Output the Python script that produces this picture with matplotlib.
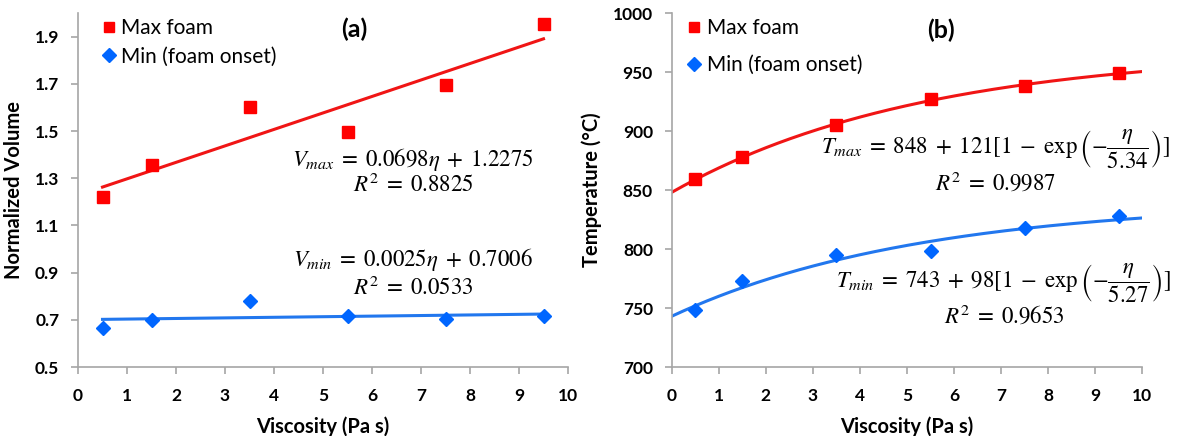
import numpy as np
import matplotlib
matplotlib.use("Agg")
import matplotlib.pyplot as plt

plt.rcParams['font.family'] = ['Lato', 'DejaVu Sans']
plt.rcParams['mathtext.fontset'] = 'stix'

# Data
visc = [0.5, 1.5, 3.5, 5.5, 7.5, 9.5]
vol_max = [1.22, 1.355, 1.60, 1.495, 1.695, 1.955]
vol_min = [0.665, 0.700, 0.780, 0.718, 0.705, 0.715]
temp_max = [859, 878, 905, 927, 938, 949]
temp_min = [748, 773, 795, 798, 818, 828]

# fit coefficients (from the annotations)
vmax_fit = (0.0698, 1.2275)
vmin_fit = (0.0025, 0.7006)
tmax_fit = (848, 121, 5.34)
tmin_fit = (743, 98, 5.27)

RED = '#FF0000'
RED_L = '#F01515'
BLUE = '#0066FF'
BLUE_L = '#2277EE'
GRAY = '#A6A6A6'

W, H = 1180, 436
fig = plt.figure(figsize=(W/100, H/100), dpi=100)
axA = fig.add_axes([78/W, 1-367/H, 490/W, (367-13)/H])
axB = fig.add_axes([671.7/W, 1-367/H, 470.7/W, (367-13)/H])

def style(ax):
    for s in ['top', 'right']:
        ax.spines[s].set_visible(False)
    for s in ['left', 'bottom']:
        ax.spines[s].set_color(GRAY)
        ax.spines[s].set_linewidth(1.2)
    ax.tick_params(axis='both', color=GRAY, length=5, width=1.2, labelsize=12.5)
    ax.tick_params(axis='x', pad=10)
    ax.tick_params(axis='y', pad=8.5)
    for lab in ax.get_xticklabels() + ax.get_yticklabels():
        lab.set_fontweight('bold')
    ax.set_xlim(0, 10)
    ax.set_xticks(range(0, 11))
    ax.set_xlabel('Viscosity (Pa s)', fontsize=14.5, fontweight='bold', labelpad=9)

def legend(ax, x0, spacing):
    ax.legend(loc='upper left', bbox_to_anchor=(x0, 0.985), frameon=False, fontsize=15,
              borderpad=0, borderaxespad=0, handlelength=0.7, handletextpad=0.25,
              labelspacing=spacing, markerscale=0.9)

# Panel (a)
xa = np.array([visc[0], visc[-1]])
axA.plot(xa, vmax_fit[0]*xa + vmax_fit[1], color=RED_L, lw=2.2, zorder=2)
axA.plot(xa, vmin_fit[0]*xa + vmin_fit[1], color=BLUE_L, lw=2.2, zorder=2)
axA.plot(visc, vol_max, 's', color=RED, ms=8.5, label='Max foam', zorder=3)
axA.plot(visc, vol_min, 'D', color=BLUE, ms=7.5, label='Min (foam onset)', zorder=3)
axA.set_ylim(0.5, 2.0)
axA.set_yticks([0.5, 0.7, 0.9, 1.1, 1.3, 1.5, 1.7, 1.9])
axA.set_yticklabels(['0.5', '0.7', '0.9', '1.1', '1.3', '1.5', '1.7', '1.9'])
axA.set_ylabel('Normalized Volume', fontsize=14.5, fontweight='bold', labelpad=8)
style(axA)
legend(axA, 0.048, 0.4)
axA.text(5.63, 1.93, '(a)', fontsize=18, fontweight='bold', ha='center', va='center')
axA.text(6.84, 1.378, r'$V_{max}\; = \;0.0698\eta\; + \;1.2275$', fontsize=16.5, ha='center', va='center')
axA.text(6.84, 1.272, r'$R^2\; = \;0.8825$', fontsize=16.5, ha='center', va='center')
axA.text(6.84, 0.954, r'$V_{min}\; = \;0.0025\eta\; + \;0.7006$', fontsize=16.5, ha='center', va='center')
axA.text(6.84, 0.839, r'$R^2\; = \;0.0533$', fontsize=16.5, ha='center', va='center')

# Panel (b)
xb = np.linspace(0, 10, 200)
axB.plot(xb, tmax_fit[0] + tmax_fit[1]*(1-np.exp(-xb/tmax_fit[2])), color=RED_L, lw=2.2, zorder=2)
axB.plot(xb, tmin_fit[0] + tmin_fit[1]*(1-np.exp(-xb/tmin_fit[2])), color=BLUE_L, lw=2.2, zorder=2)
axB.plot(visc, temp_max, 's', color=RED, ms=8.5, label='Max foam', zorder=3)
axB.plot(visc, temp_min, 'D', color=BLUE, ms=7.5, label='Min (foam onset)', zorder=3)
axB.set_ylim(700, 1000)
axB.set_yticks(range(700, 1001, 50))
axB.set_ylabel('Temperature (°C)', fontsize=14.5, fontweight='bold', labelpad=8)
style(axB)
legend(axB, 0.032, 0.8)
axB.text(5.71, 985, '(b)', fontsize=18, fontweight='bold', ha='center', va='center')
axB.text(6.88, 884, r'$T_{max}\; = \;848\; + \;121[1\; - \;\exp\left(-\dfrac{\eta}{5.34}\right)]$', fontsize=16.5, ha='center', va='center')
axB.text(6.88, 857, r'$R^2\; = \;0.9987$', fontsize=16.5, ha='center', va='center')
axB.text(7.05, 771, r'$T_{min}\; = \;743\; + \;98[1\; - \;\exp\left(-\dfrac{\eta}{5.27}\right)]$', fontsize=16.5, ha='center', va='center')
axB.text(7.07, 744, r'$R^2\; = \;0.9653$', fontsize=16.5, ha='center', va='center')

fig.savefig('out.png', dpi=100)
